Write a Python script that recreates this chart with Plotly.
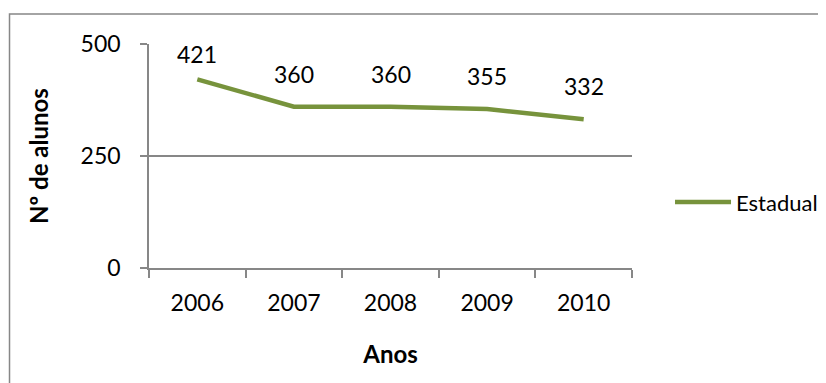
import plotly.graph_objects as go

anos = ["2006", "2007", "2008", "2009", "2010"]
estadual = [421, 360, 360, 355, 332]
y_ticks = [0, 250, 500]

verde = "#77933C"
cinza = "#878787"
fonte = "Lato"

fig = go.Figure()
fig.add_trace(go.Scatter(
    x=anos, y=estadual, name="Estadual", mode="lines",
    line=dict(color=verde, width=4.5),
))

# data labels above the points, pushed down when they would leave the plot (like Excel)
plot_h = 224
for i, v in enumerate(estadual):
    dist_top = (500 - v) / 500 * plot_h
    shift = min(33, dist_top - 10.5)
    fig.add_annotation(x=i, y=v, text=str(v), showarrow=False, yshift=shift,
                       font=dict(family=fonte, size=23, color="black"))

# chart area border
fig.add_shape(type="rect", xref="paper", yref="paper",
              x0=-0.2888, x1=1.42, y0=-1.0, y1=1.134,
              line=dict(color=cinza, width=1.5), layer="below")

# page body has an 8px margin, so the figure is a bit smaller than the window
fig.update_layout(
    width=818, height=375,
    margin=dict(l=141, r=194, t=36, b=115, autoexpand=False),
    paper_bgcolor="white", plot_bgcolor="white",
    font=dict(family=fonte, size=23, color="black"),
    showlegend=True,
    legend=dict(x=1.0787, xanchor="left", y=0.294, yanchor="middle", itemwidth=56,
                font=dict(family=fonte, size=22, color="black"),
                bgcolor="rgba(0,0,0,0)"),
    xaxis=dict(
        type="category", range=[-0.5, 4.5], showline=True, linecolor=cinza, linewidth=1.5,
        ticks="outside", ticklen=8, tickcolor=cinza, tickwidth=1.5, tickangle=0,
        tickson="boundaries", showgrid=False, ticklabelstandoff=14,
        title=dict(text="<b>Anos</b>", standoff=31, font=dict(family=fonte, size=24)),
    ),
    yaxis=dict(
        range=[0, 500], tickvals=y_ticks, showline=True, linecolor=cinza, linewidth=1.5,
        ticks="outside", ticklen=7, tickcolor=cinza, tickwidth=1.5,
        showgrid=True, gridcolor=cinza, gridwidth=1.5, zeroline=False,
        ticklabelstandoff=15,
        title=dict(text="<b>Nº de alunos</b>", standoff=25, font=dict(family=fonte, size=24)),
    ),
)

fig.write_html("out.html")
